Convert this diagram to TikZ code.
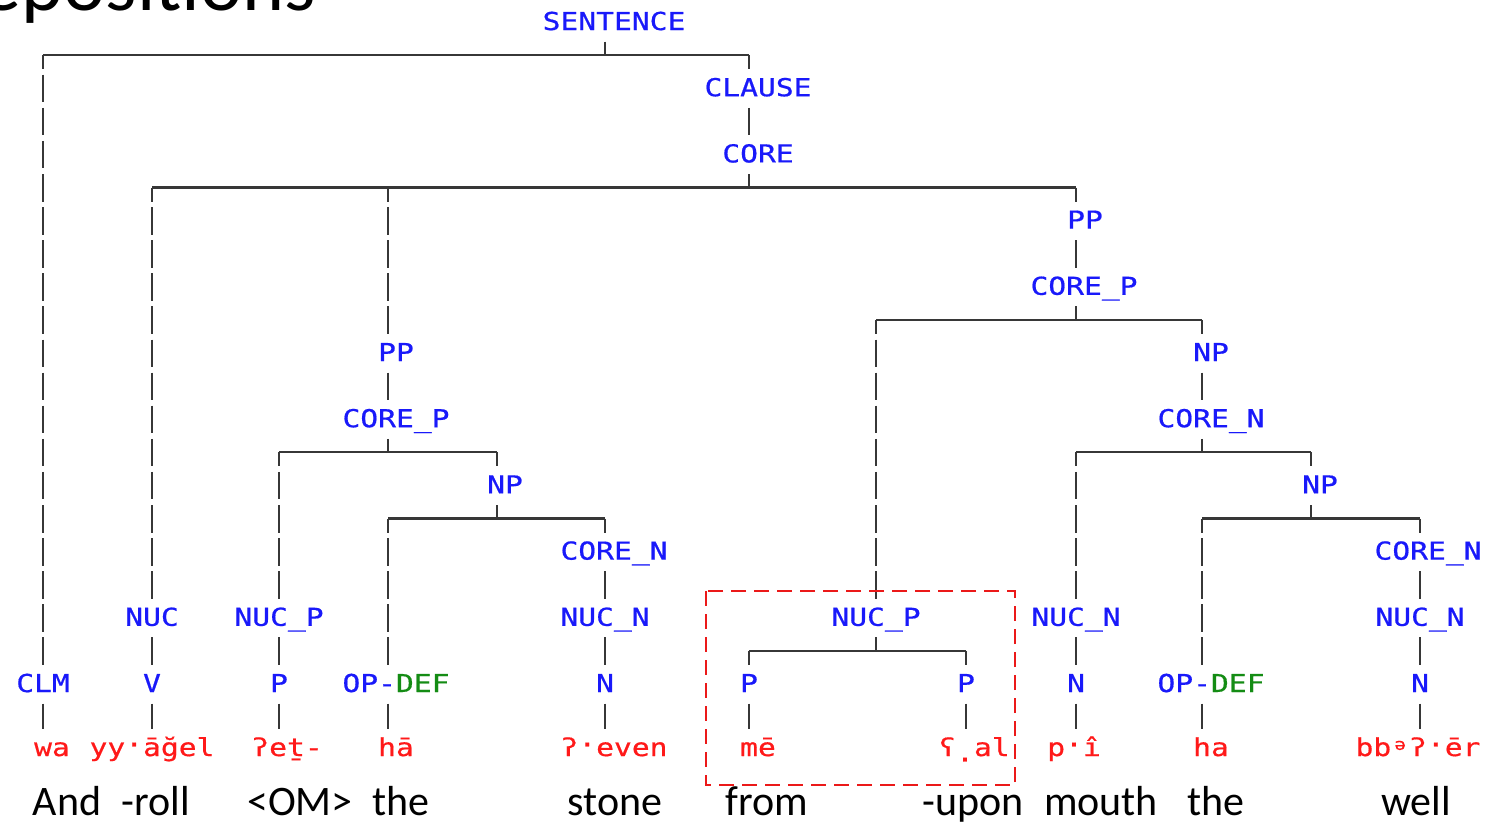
\documentclass[tikz,border=0pt]{standalone}
\usepackage{fontspec}
\usepackage{graphicx}
\usetikzlibrary{calc}
\newfontfamily\treefont[FakeStretch=1.2,FakeBold=0.6]{DejaVu Sans Mono}
\newfontfamily\glossfont{Carlito}
\definecolor{tblue}{RGB}{25,25,250}
\definecolor{tgreen}{RGB}{20,140,20}
\definecolor{tred}{RGB}{255,25,25}
\definecolor{lgray}{RGB}{55,55,55}
\definecolor{boxred}{RGB}{235,25,25}
\newcommand{\hdot}{\raisebox{0.12em}{·}}
\newcommand{\ldot}{\raisebox{-0.22em}{.}}
\newcommand{\sschwa}{\setbox0\hbox{b}\makebox[\wd0]{\raisebox{0.25em}{\scalebox{0.65}{ə}}}}
\newcommand{\GREEN}[1]{\textcolor{tgreen}{#1}}
\tikzset{
  lab/.style={font=\treefont\fontsize{12.35}{14}\selectfont, text=tblue, inner sep=0pt, anchor=base},
  word/.style={font=\treefont\fontsize{12.35}{14}\selectfont, text=tred, inner sep=0pt, anchor=base},
  gloss/.style={font=\glossfont\fontsize{21}{24}\selectfont, text=black, inner sep=0pt, anchor=base, text depth=0pt},
  hl/.style={line width=1.1pt, draw=lgray},
  tickln/.style={line width=1.1pt, draw=lgray},
  vh/.style={line width=1.1pt, draw=lgray, dash pattern=on 13.75pt off 2.8pt, dash phase=6.75pt},
  vs/.style={line width=1.1pt, draw=lgray, dash pattern=on 13.75pt off 2.8pt},
  redbox/.style={line width=1.25pt, draw=boxred, dash pattern=on 7.5pt off 4pt}
}
% #1 parent node, #2 parent column, #3 left column, #4 right column
\newcommand{\TSplit}[4]{%
  \draw[tickln] ($(#1.base -| #2)+(0,11.6)$) -- ($(#1.base -| #2)+(0,25.1)$);
  \draw[hl] ($(#1.base -| #3)+(0,25.1)$) -- ($(#1.base -| #4)+(0,25.1)$);}
% #1 parent node, #2 column, #3 child node
\newcommand{\TDown}[3]{%
  \draw[vh] ($(#1.base -| #2)+(0,25.1)$) -- ($(#3.base -| #2)+(0,-27.1)$);}
\newcommand{\TSingle}[3]{%
  \draw[vs] ($(#1.base -| #2)+(0,11.6)$) -- ($(#3.base -| #2)+(0,-27.1)$);}
\begin{document}
\begin{tikzpicture}[x=0.5pt,y=-0.5pt]
\useasboundingbox (0,0) rectangle (1486,821);
\fill[white] (0,0) rectangle (1486,821);
\clip (0,0) rectangle (1486,821);
% columns
\foreach \c in {43,152,279,388,497,605,749,876,966,1076,1202,1311,1420}
  \coordinate (c\c) at (\c,0);
% title (cut off at the top-left, as in the reference)
\node[font=\glossfont\fontsize{40}{44}\selectfont, inner sep=0pt, anchor=base east] (title) at (316,10) {epositions};
% tree labels
\node[lab] (SENT) at (614,30) {SENTENCE};
\node[lab] (CLAUSE) at (758,96.2) {CLAUSE};
\node[lab] (CORE) at (758,162.4) {CORE};
\node[lab] (PPr) at (1085,228.6) {PP};
\node[lab] (COREPr) at (1084,294.8) {CORE\_P};
\node[lab] (PPl) at (396,361) {PP};
\node[lab] (NPr) at (1211,361) {NP};
\node[lab] (COREPl) at (396,427.2) {CORE\_P};
\node[lab] (CORENr) at (1211,427.2) {CORE\_N};
\node[lab] (NPl) at (505,493.4) {NP};
\node[lab] (NPr2) at (1320,493.4) {NP};
\node[lab] (CORENl) at (614,559.6) {CORE\_N};
\node[lab] (CORENr2) at (1428,559.6) {CORE\_N};
\node[lab] (NUC) at (152,625.8) {NUC};
\node[lab] (NUCPl) at (279,625.8) {NUC\_P};
\node[lab] (NUCNl) at (605,625.8) {NUC\_N};
\node[lab] (NUCPm) at (876,625.8) {NUC\_P};
\node[lab] (NUCNr) at (1076,625.8) {NUC\_N};
\node[lab] (NUCNr2) at (1420,625.8) {NUC\_N};
\node[lab] (CLM) at (43,692) {CLM};
\node[lab] (V) at (152,692) {V};
\node[lab] (Pl) at (279,692) {P};
\node[lab] (OPDEFl) at (396,692) {OP-\GREEN{DEF}};
\node[lab] (Nl) at (605,692) {N};
\node[lab] (Pm1) at (749,692) {P};
\node[lab] (Pm2) at (966,692) {P};
\node[lab] (Nr) at (1076,692) {N};
\node[lab] (OPDEFr) at (1211,692) {OP-\GREEN{DEF}};
\node[lab] (Nr2) at (1420,692) {N};
% words
\node[word] (wWa) at (52,756) {wa};
\node[word] (wRoll) at (152,756) {yy\hdot āğel};
\node[word] (wEt) at (287,756) {ʔeṯ-};
\node[word] (wHa1) at (396,756) {hā};
\node[word] (wStone) at (614,756) {ʔ\hdot even};
\node[word] (wMe) at (758,756) {mē};
\node[word] (wAl) at (974,756) {ʕ\ldot al};
\node[word] (wPi) at (1074,756) {p\hdot î};
\node[word] (wHa2) at (1211,756) {ha};
\node[word] (wWell) at (1418,756) {bb\sschwa ʔ\hdot ēr};
% glosses
\node[gloss] (g1) at (67,815) {And};
\node[gloss] (g2) at (156,815) {-roll};
\node[gloss] (g3) at (300,815) {<OM>};
\node[gloss] (g4) at (401,815) {the};
\node[gloss] (g5) at (615,815) {stone};
\node[gloss] (g6) at (767,815) {from};
\node[gloss] (g7) at (973,815) {-upon};
\node[gloss] (g8) at (1101,815) {mouth};
\node[gloss] (g9) at (1216,815) {the};
\node[gloss] (g10) at (1416,815) {well};
% connectors
\TSplit{SENT}{c605}{c43}{c749}
\TDown{SENT}{c43}{CLM}
\TDown{SENT}{c749}{CLAUSE}
\TSingle{CLAUSE}{c749}{CORE}
\TSplit{CORE}{c749}{c152}{c1076}
\TDown{CORE}{c152}{NUC}
\TDown{CORE}{c388}{PPl}
\TDown{CORE}{c1076}{PPr}
\TSingle{PPr}{c1076}{COREPr}
\TSplit{COREPr}{c1076}{c876}{c1202}
\TDown{COREPr}{c876}{NUCPm}
\TDown{COREPr}{c1202}{NPr}
\TSingle{NPr}{c1202}{CORENr}
\TSplit{CORENr}{c1202}{c1076}{c1311}
\TDown{CORENr}{c1076}{NUCNr}
\TDown{CORENr}{c1311}{NPr2}
\TSplit{NPr2}{c1311}{c1202}{c1420}
\TDown{NPr2}{c1202}{OPDEFr}
\TDown{NPr2}{c1420}{CORENr2}
\TSingle{CORENr2}{c1420}{NUCNr2}
\TSingle{NUCNr2}{c1420}{Nr2}
\TSingle{Nr2}{c1420}{wWell}
\TSingle{NUCNr}{c1076}{Nr}
\TSingle{Nr}{c1076}{wPi}
\TSingle{OPDEFr}{c1202}{wHa2}
\TSplit{NUCPm}{c876}{c749}{c966}
\TDown{NUCPm}{c749}{Pm1}
\TDown{NUCPm}{c966}{Pm2}
\TSingle{Pm1}{c749}{wMe}
\TSingle{Pm2}{c966}{wAl}
\TSingle{PPl}{c388}{COREPl}
\TSplit{COREPl}{c388}{c279}{c497}
\TDown{COREPl}{c279}{NUCPl}
\TDown{COREPl}{c497}{NPl}
\TSplit{NPl}{c497}{c388}{c605}
\TDown{NPl}{c388}{OPDEFl}
\TDown{NPl}{c605}{CORENl}
\TSingle{CORENl}{c605}{NUCNl}
\TSingle{NUCNl}{c605}{Nl}
\TSingle{Nl}{c605}{wStone}
\TSingle{OPDEFl}{c388}{wHa1}
\TSingle{NUCPl}{c279}{Pl}
\TSingle{Pl}{c279}{wEt}
\TSingle{NUC}{c152}{V}
\TSingle{V}{c152}{wRoll}
\TSingle{CLM}{c43}{wWa}
% highlight box
\draw[redbox] (706,591) rectangle (1015,785);
\end{tikzpicture}
\end{document}
